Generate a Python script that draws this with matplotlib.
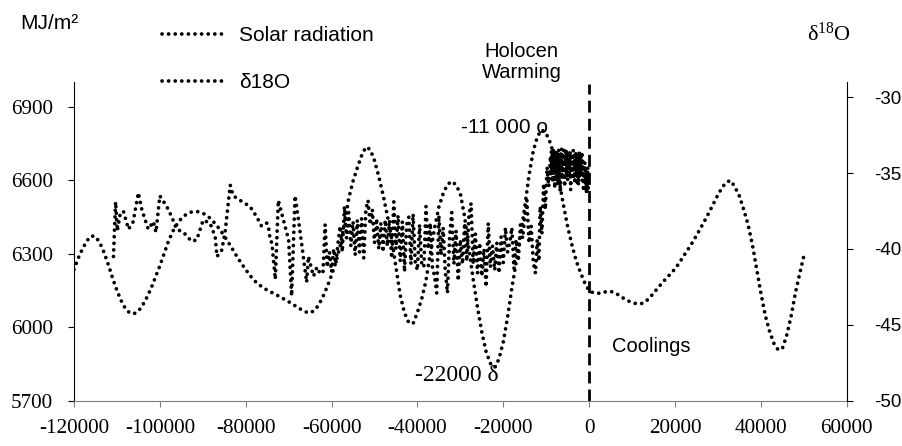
import numpy as np
import matplotlib
matplotlib.use('Agg')
import matplotlib.pyplot as plt

plt.rcParams['font.family'] = ['Liberation Sans', 'DejaVu Sans']
plt.rcParams['mathtext.fontset'] = 'custom'
plt.rcParams['mathtext.rm'] = 'Liberation Serif'

# solar radiation, MJ/m2, one value per 1000 years
solar_years = np.arange(-120000, 50001, 1000)
solar_mj = [
    6235, 6282, 6320, 6352, 6372, 6370, 6345, 6305, 6255, 6200,
    6150, 6108, 6075, 6058, 6055, 6065, 6090, 6122, 6160, 6205,
    6250, 6300, 6350, 6390, 6420, 6443, 6458, 6468, 6472, 6471,
    6465, 6455, 6440, 6420, 6398, 6372, 6345, 6316, 6287, 6260,
    6235, 6211, 6190, 6175, 6162, 6151, 6142, 6133, 6124, 6114,
    6104, 6093, 6082, 6071, 6062, 6058, 6068, 6090, 6125, 6165,
    6212, 6265, 6330, 6420, 6525, 6595, 6650, 6700, 6735, 6725,
    6680, 6615, 6540, 6455, 6360, 6245, 6130, 6058, 6018, 6015,
    6060, 6115, 6190, 6300, 6405, 6490, 6545, 6582, 6595, 6580,
    6545, 6450, 6320, 6195, 6080, 5980, 5900, 5852, 5835, 5870,
    5940, 6040, 6160, 6265, 6370, 6490, 6620, 6720, 6780, 6805,
    6790, 6750, 6690, 6600, 6500, 6410, 6335, 6270, 6222, 6180,
    6148, 6140, 6138, 6140, 6145, 6146, 6140, 6130, 6118, 6108,
    6100, 6096, 6095, 6102, 6118, 6138, 6160, 6180, 6200, 6218,
    6238, 6262, 6290, 6316, 6344, 6374, 6405, 6437, 6470, 6505,
    6540, 6570, 6592, 6598, 6570, 6535, 6480, 6420, 6340, 6240,
    6140, 6050, 5985, 5935, 5908, 5912, 5965, 6040, 6135, 6215,
    6289,
]

# ice core d18O, glacial part (irregular spacing)
glacial_years = [
    -110800, -110300, -109900, -109300, -108500, -107300, -106200, -105000,
    -104200, -102700, -101500, -100900, -100000, -98400, -97200, -96100,
    -94500, -92600, -91400, -89900, -88300, -87100, -86700, -85600,
    -84800, -83600, -82900, -81300, -79000, -77400, -76300, -75100,
    -74700, -74300, -73900, -73100, -72400, -71200, -70000, -69300,
    -68500, -67700, -66900, -65800, -65400, -64200, -63400, -62700,
]
glacial_vals = [
    -40.5, -36.9, -38.8, -37.8, -37.5, -38.7, -38.2, -36.3,
    -37.4, -38.7, -38.2, -38.9, -36.5, -37.2, -37.9, -38.7,
    -38.9, -39.5, -39.4, -38.1, -38.3, -39.2, -40.5, -40.1,
    -38.9, -35.8, -36.5, -36.8, -37.2, -37.9, -38.5, -38.3,
    -38.5, -39.4, -39.6, -42.0, -36.8, -38.1, -39.4, -43.1,
    -36.5, -38.1, -39.8, -42.2, -40.5, -41.8, -41.2, -41.6,
]

# 62 000 - 12 500 years BP, every 500 years
late_years = np.arange(-62000, -12499, 500)
late_vals = [
    -41.6, -38.4, -41.2, -40.2, -41.5, -40.0, -41.0, -39.6, -38.5, -40.2,
    -37.2, -39.3, -37.6, -39.8, -38.2, -40.4, -38.1, -40.2, -38.0, -40.6,
    -37.4, -36.8, -38.4, -37.4, -39.6, -38.0, -40.0, -38.3, -40.2, -38.1,
    -39.8, -38.2, -40.6, -36.9, -40.0, -37.8, -40.8, -38.2, -41.5, -38.4,
    -37.9, -41.0, -37.7, -40.9, -41.4, -38.4, -41.0, -41.2, -37.2, -40.0,
    -38.3, -41.2, -41.8, -42.9, -37.8, -40.4, -38.6, -41.5, -42.9, -39.2,
    -37.6, -41.0, -38.8, -42.1, -39.4, -41.0, -38.3, -40.8, -37.8, -37.0,
    -41.0, -39.0, -41.6, -39.6, -41.8, -40.0, -42.5, -38.3, -41.2, -39.8,
    -41.4, -39.6, -41.6, -39.2, -40.9, -38.6, -40.2, -39.6, -38.6, -41.3,
    -39.4, -40.8, -38.4, -39.3, -37.9, -36.8, -39.6, -38.5, -40.9, -41.6,
]

# warming step
step_years = [-12100, -11700, -11400, -11000, -10600, -10200, -9800, -9400]
step_vals = [-39.4, -40.8, -37.2, -39.0, -35.7, -37.4, -34.6, -35.9]

# holocene, every 100 years
holo_years = np.arange(-9000, 1, 100)
holo_vals = [
    -33.9, -35.2, -33.6, -34.8, -33.5, -35.6, -34.1, -33.4, -35.0, -34.2,
    -36.0, -33.7, -34.9, -33.5, -35.3, -34.0, -33.6, -35.8, -34.4, -33.5,
    -35.1, -33.8, -34.6, -36.3, -33.6, -34.9, -33.4, -35.4, -34.2, -33.7,
    -35.0, -33.5, -34.7, -35.9, -33.8, -34.3, -33.4, -35.2, -34.0, -33.6,
    -35.5, -33.9, -34.8, -33.5, -35.0, -34.1, -33.6, -36.1, -34.4, -33.7,
    -35.2, -33.9, -34.6, -33.5, -35.4, -34.2, -33.8, -35.7, -34.5, -33.6,
    -35.1, -34.0, -35.6, -34.3, -33.9, -35.8, -34.7, -33.5, -35.3, -34.1,
    -33.7, -35.0, -34.4, -33.6, -35.5, -34.2, -34.9, -36.2, -34.9, -35.6,
    -34.3, -36.0, -34.8, -35.4, -36.4, -35.1, -35.8, -34.6, -36.0, -35.3,
    -35.2,
]

years = np.concatenate([glacial_years, late_years, step_years, holo_years])
d18o = np.concatenate([glacial_vals, late_vals, step_vals, holo_vals])

fig, ax = plt.subplots(figsize=(9.02, 4.46), dpi=100)
fig.subplots_adjust(left=0.082, right=0.9387, bottom=0.1016, top=0.8161)
ax2 = ax.twinx()

dots = dict(color='black', lw=2.7, linestyle=(0, (0.01, 1.75)),
            dash_capstyle='round')
l1, = ax.plot(solar_years, solar_mj, label='Solar radiation', **dots)
l2, = ax2.plot(years, d18o, label='δ18O', **dots)

ax.vlines(0, 5700, 6990, colors='black', lw=2, linestyles=(0, (4.3, 2.2)))

ax.set_xlim(-120000, 60000)
ax.set_ylim(5700, 7000)
ax2.set_ylim(-50, -29)

xt = list(range(-120000, 60001, 20000))
yt = list(range(5700, 6901, 300))
yt2 = list(range(-50, -29, 5))
ax.set_xticks(xt, [str(t) for t in xt], fontfamily='Liberation Serif', fontsize=15.2)
ax.set_yticks(yt, [str(t) for t in yt], fontfamily='Liberation Serif', fontsize=15.2)
ax2.set_yticks(yt2, [str(t) for t in yt2], fontsize=13.5)

ax.tick_params(axis='x', length=4, width=0.8, color='#808080', pad=9)
ax.tick_params(axis='y', length=4, width=0.8, pad=11)
ax2.tick_params(axis='y', length=4, width=0.8, pad=16)

for s in ['top', 'right']:
    ax.spines[s].set_visible(False)
for s in ['top', 'left', 'bottom']:
    ax2.spines[s].set_visible(False)
ax.spines['bottom'].set_color('#808080')
ax.spines['left'].set_linewidth(0.8)
ax2.spines['right'].set_linewidth(0.8)

ax.legend(handles=[l1, l2], loc='upper left', bbox_to_anchor=(0.1796, 0.942),
          bbox_transform=fig.transFigure, frameon=False, fontsize=15,
          handlelength=3.1, handletextpad=0.6, labelspacing=1.35,
          borderpad=0, borderaxespad=0)

fig.text(0.022, 0.935, 'MJ/m²', fontsize=15, va='baseline')
fig.text(0.895, 0.908, r'$\mathrm{\delta^{18}O}$', fontsize=16, va='baseline')
fig.text(0.5784, 0.8715, 'Holocen', fontsize=14.5, ha='center', va='baseline')
fig.text(0.5784, 0.8262, 'Warming', fontsize=14.5, ha='center', va='baseline')

ax.text(-9500, 6790, '-11 000 o', fontsize=15, ha='right', va='baseline')
ax.text(-21100, 5782, '-22000 δ', fontsize=17, ha='right', va='baseline',
        fontfamily='Liberation Serif')
ax.text(5300, 5900, 'Coolings', fontsize=14.5, ha='left', va='baseline')

plt.savefig('out.png')
